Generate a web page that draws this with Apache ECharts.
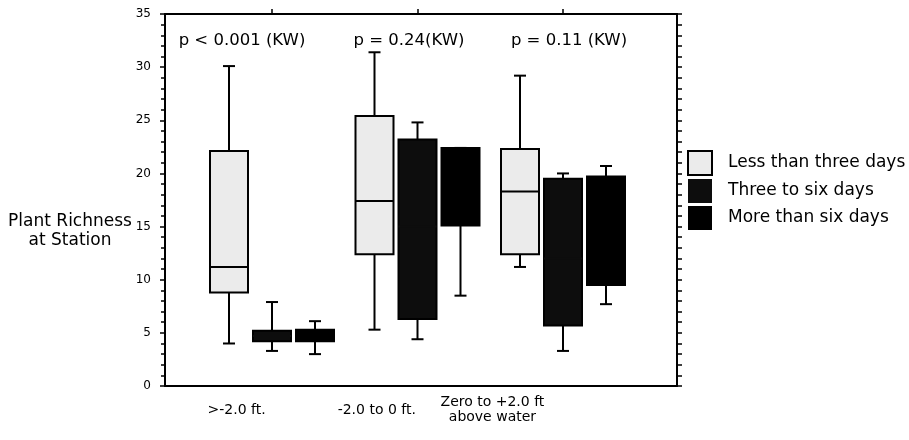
<!DOCTYPE html>
<html>
<head>
<meta charset="utf-8">
<script src="https://cdn.jsdelivr.net/npm/echarts@6/dist/echarts.min.js"></script>
<style>
  html, body { margin: 0; padding: 0; background: #fff; }
  #chart { width: 909px; height: 440px; }
</style>
</head>
<body>
<div id="chart"></div>
<script>
// ---------- DATA ----------
const categories = ['>-2.0 ft.', '-2.0 to 0 ft.', 'Zero to +2.0 ft\nabove water'];
const seriesNames = ['Less than three days', 'Three to six days', 'More than six days'];
const pValueLabels = ['p < 0.001 (KW)', 'p = 0.24(KW)', 'p = 0.11 (KW)'];
const yAxisTitle = 'Plant Richness\nat Station';
// each row: [min, q1, median, q3, max] per category
const lessThanThree = [
  [4.0, 8.8, 11.2, 22.1, 30.1],
  [5.3, 12.4, 17.4, 25.4, 31.4],
  [11.2, 12.4, 18.3, 22.3, 29.2]
];
const threeToSix = [
  [3.3, 4.2, 4.7, 5.2, 7.9],
  [4.4, 6.3, 15.0, 23.2, 24.8],
  [3.3, 5.7, 12.0, 19.5, 20.0]
];
const moreThanSix = [
  [3.0, 4.2, 4.8, 5.3, 6.1],
  [8.5, 15.1, 19.0, 22.4, 22.4],
  [7.7, 9.5, 15.0, 19.7, 20.7]
];
const yMin = 0, yMax = 35, yStep = 5;

// ---------- LAYOUT / STYLE ----------
const FONT = 'DejaVu Sans';
const fills = ['#ebebeb', '#0d0d0d', '#000000'];
const medianColors = ['#000000', '#0d0d0d', '#000000'];
const BOX_W = 38, BOX_STEP = 43, CAP_W = 12;
const X_MIN = 0.2646, X_MAX = 3.7835;          // axis extent around categories 1..3
const catLabelAt = [0.757, 1.72, 2.515];       // where the category captions sit
const pLabelPx = [[242, 41], [409, 41], [569, 41]];

const allSeries = [lessThanThree, threeToSix, moreThanSix];

function renderItem(params, api) {
  const s = params.seriesIndex;
  const x = api.value(0);
  const cx = api.coord([x, 0])[0] + (s - 1) * BOX_STEP;
  const py = v => api.coord([x, v])[1];
  const yLo = py(api.value(1)), yQ1 = py(api.value(2)), yMed = py(api.value(3)),
        yQ3 = py(api.value(4)), yHi = py(api.value(5));
  const ls = { stroke: '#000', lineWidth: 2 };
  return {
    type: 'group',
    children: [
      { type: 'line', shape: { x1: cx, y1: yQ3, x2: cx, y2: yHi }, style: ls },
      { type: 'line', shape: { x1: cx - CAP_W / 2, y1: yHi, x2: cx + CAP_W / 2, y2: yHi }, style: ls },
      { type: 'line', shape: { x1: cx, y1: yQ1, x2: cx, y2: yLo }, style: ls },
      { type: 'line', shape: { x1: cx - CAP_W / 2, y1: yLo, x2: cx + CAP_W / 2, y2: yLo }, style: ls },
      { type: 'rect', shape: { x: cx - BOX_W / 2, y: yQ3, width: BOX_W, height: yQ1 - yQ3 },
        style: { fill: fills[s], stroke: '#000', lineWidth: 2 } },
      { type: 'line', shape: { x1: cx - BOX_W / 2, y1: yMed, x2: cx + BOX_W / 2, y2: yMed },
        style: { stroke: medianColors[s], lineWidth: 2 } }
    ]
  };
}

const series = allSeries.map((arr, s) => ({
  name: seriesNames[s],
  type: 'custom',
  renderItem: renderItem,
  xAxisIndex: 0,
  yAxisIndex: 0,
  itemStyle: { color: fills[s], borderColor: '#000', borderWidth: 2 },
  encode: { x: 0, y: [1, 2, 3, 4, 5] },
  data: arr.map((row, i) => [i + 1].concat(row))
}));

const chart = echarts.init(document.getElementById('chart'));
chart.setOption({
  animation: false,
  backgroundColor: '#fff',
  textStyle: { fontFamily: FONT, color: '#000' },
  grid: { left: 165, right: 232, top: 14, bottom: 54 },
  legend: {
    orient: 'vertical',
    left: 687, top: 150, padding: 0,
    itemWidth: 24, itemHeight: 24, itemGap: 3,
    icon: 'rect',
    textStyle: { fontFamily: FONT, fontSize: 17, color: '#000', padding: [0, 0, 0, 11] },
    data: seriesNames.map((n, s) => ({
      name: n,
      itemStyle: { color: fills[s], borderColor: '#000', borderWidth: s === 0 ? 2 : 0 }
    }))
  },
  xAxis: [
    {
      type: 'value', position: 'bottom', min: X_MIN, max: X_MAX,
      axisLine: { show: true, lineStyle: { color: '#000', width: 2 } },
      axisTick: { show: false },
      splitLine: { show: false },
      axisLabel: {
        customValues: catLabelAt,
        margin: 24, verticalAlign: 'middle', lineHeight: 15,
        fontFamily: FONT, fontSize: 14, color: '#000',
        formatter: function (v) {
          let best = 0;
          catLabelAt.forEach((p, i) => { if (Math.abs(p - v) < Math.abs(catLabelAt[best] - v)) best = i; });
          return categories[best];
        }
      }
    },
    {
      type: 'value', position: 'top', min: X_MIN, max: X_MAX,
      axisLine: { show: true, onZero: false, lineStyle: { color: '#000', width: 2 } },
      axisTick: { show: true, customValues: [1, 2, 3], length: 5, lineStyle: { color: '#000', width: 1.5 } },
      axisLabel: { show: false },
      splitLine: { show: false }
    }
  ],
  yAxis: [
    {
      type: 'value', position: 'left', min: yMin, max: yMax, interval: yStep,
      axisLine: { show: true, lineStyle: { color: '#000', width: 2 } },
      axisTick: { show: true, length: 5, lineStyle: { color: '#000', width: 1.5 } },
      minorTick: { show: true, splitNumber: 5, length: 4, lineStyle: { color: '#000', width: 1.5 } },
      axisLabel: { margin: 14, fontFamily: FONT, fontSize: 12, color: '#000' },
      splitLine: { show: false }
    },
    {
      type: 'value', position: 'right', min: yMin, max: yMax, interval: 1,
      axisLine: { show: true, onZero: false, lineStyle: { color: '#000', width: 2 } },
      axisTick: { show: true, length: 5, lineStyle: { color: '#000', width: 1.5 } },
      axisLabel: { show: false },
      splitLine: { show: false }
    }
  ],
  graphic: [
    {
      type: 'text', x: 70, y: 231,
      style: { text: yAxisTitle, font: '17px "DejaVu Sans"', fill: '#000', align: 'center', verticalAlign: 'middle', lineHeight: 19 }
    }
  ].concat(pValueLabels.map((t, i) => ({
    type: 'text', x: pLabelPx[i][0], y: pLabelPx[i][1],
    style: { text: t, font: '16.5px "DejaVu Sans"', fill: '#000', align: 'center', verticalAlign: 'middle' }
  }))),
  series: series
});
</script>
</body>
</html>
